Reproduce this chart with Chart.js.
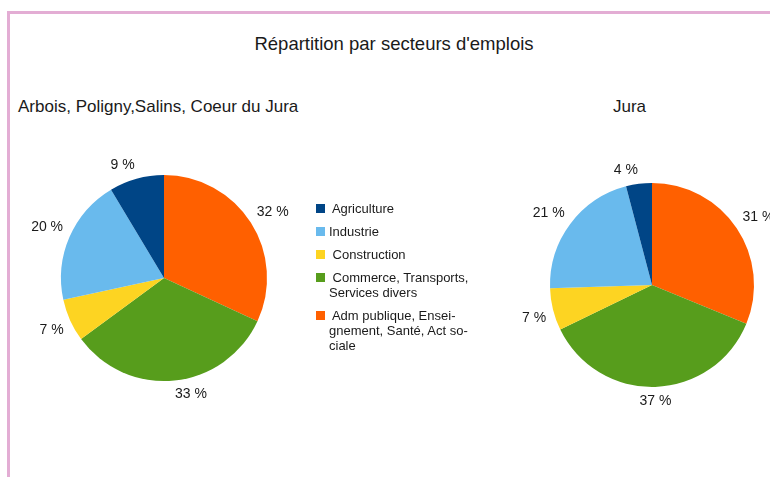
<!DOCTYPE html>
<html>
<head>
<meta charset="utf-8">
<script src="https://cdn.jsdelivr.net/npm/chart.js@4/dist/chart.umd.min.js"></script>
<style>
  body { margin: 0; width: 770px; height: 477px; overflow: hidden; background: #fff;
         font-family: "Liberation Sans", Arial, sans-serif; color: #1a1a1a; position: relative; }
  .frame { position: absolute; left: 7px; top: 11px; width: 820px; height: 520px;
           border-left: 3px solid #e3add4; border-top: 3px solid #e3add4; }
  .title { position: absolute; left: 0; top: 33px; width: 788px; text-align: center;
           font-size: 18.5px; line-height: 22px; }
  .sub { position: absolute; top: 96px; font-size: 17px; line-height: 22px; white-space: nowrap; }
  canvas { position: absolute; }
  #legend { position: absolute; left: 316px; top: 201px; font-size: 13px; line-height: 15px; }
  .item { display: flex; align-items: flex-start; margin-bottom: 8px; }
  .box { width: 9px; height: 9px; margin-top: 3px; flex: none; }
  .txt { margin-left: 4px; white-space: pre; }
</style>
</head>
<body>
<div class="frame"></div>
<div class="title">Répartition par secteurs d'emplois</div>
<div class="sub" style="left:18px">Arbois, Poligny,Salins, Coeur du Jura</div>
<div class="sub" style="left:613px">Jura</div>
<canvas id="left-pie" width="330" height="296" style="left:0;top:130px"></canvas>
<canvas id="right-pie" width="330" height="296" style="left:487px;top:137px"></canvas>
<div id="legend"></div>
<script>
// categories, in the legend's order
const sectors = [' Agriculture', 'Industrie', ' Construction', ' Commerce, Transports,\nServices divers', ' Adm publique, Ensei-\ngnement, Santé, Act so-\nciale'];
const sectorColors = ['#004586', '#69baed', '#fdd422', '#579d1c', '#ff6000'];

// shares in %, same order
const arboisValues = [8.6, 19.8, 6.7, 33.0, 31.9];
const juraValues = [4.1, 21.4, 6.7, 36.6, 31.2];

// the original pies run counter-clockwise, chart.js runs clockwise
function rev(arr) {
    return arr.slice().reverse();
}

const outsideLabels = {
    id: 'outsideLabels',
    afterDatasetsDraw(chart) {
        const ctx = chart.ctx;
        const meta = chart.getDatasetMeta(0);
        const values = chart.data.datasets[0].data;
        const total = values.reduce((a, b) => a + b, 0);
        ctx.save();
        ctx.font = '14px "Liberation Sans", Arial, sans-serif';
        ctx.fillStyle = '#1a1a1a';
        meta.data.forEach((arc, i) => {
            const p = arc.getProps(['x', 'y', 'startAngle', 'endAngle', 'outerRadius'], true);
            const mid = (p.startAngle + p.endAngle) / 2;
            const dx = Math.cos(mid);
            const dy = Math.sin(mid);
            const r = p.outerRadius + 7;
            if (dx > 0.06) ctx.textAlign = 'left';
            else if (dx < -0.06) ctx.textAlign = 'right';
            else ctx.textAlign = 'center';
            ctx.textBaseline = dy < 0 ? 'bottom' : 'top';
            const text = Math.round(values[i] / total * 100) + ' %';
            ctx.fillText(text, p.x + dx * r, p.y + dy * r);
        });
        ctx.restore();
    }
};

function makePie(canvasId, values, pad) {
    return new Chart(document.getElementById(canvasId).getContext('2d'), {
        type: 'pie',
        data: {
            labels: rev(sectors),
            datasets: [{
                data: rev(values),
                backgroundColor: rev(sectorColors),
                borderWidth: 0,
                hoverOffset: 0
            }]
        },
        options: {
            responsive: false,
            animation: false,
            layout: { padding: pad },
            plugins: {
                legend: { display: false },
                tooltip: { enabled: false }
            }
        },
        plugins: [outsideLabels]
    });
}

makePie('left-pie', arboisValues, { top: 45, bottom: 45, left: 61, right: 63 });
makePie('right-pie', juraValues, { top: 46, bottom: 46, left: 63, right: 63 });

// legend built from the same arrays
const legend = document.getElementById('legend');
sectors.forEach((name, i) => {
    const item = document.createElement('div');
    item.className = 'item';
    const box = document.createElement('div');
    box.className = 'box';
    box.style.background = sectorColors[i];
    const txt = document.createElement('div');
    txt.className = 'txt';
    txt.textContent = name;
    item.appendChild(box);
    item.appendChild(txt);
    legend.appendChild(item);
});
</script>
</body>
</html>
